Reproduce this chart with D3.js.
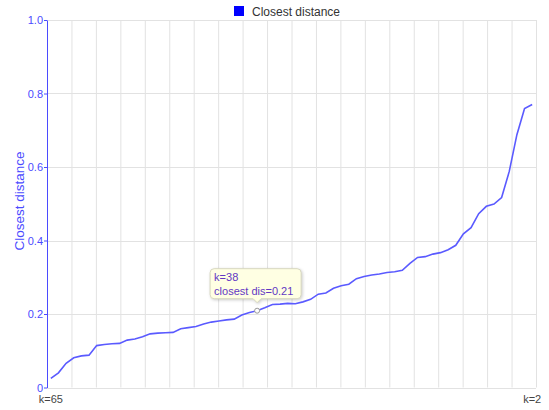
<!DOCTYPE html>
<html>
    <body style="margin:0;background:#fff">
        <svg id="mySvg" width="549" height="410"></svg>
        <script src="https://d3js.org/d3.v7.min.js"></script>
        <script>
            // k goes from 65 down to 2
            const kValues = d3.range(65, 1, -1);
            const distances = [
                0.025, 0.040, 0.066, 0.081, 0.086, 0.088, 0.114, 0.117, 0.119, 0.120,
                0.129, 0.132, 0.138, 0.146, 0.148, 0.149, 0.150, 0.160, 0.163, 0.166,
                0.173, 0.178, 0.181, 0.184, 0.186, 0.197, 0.204, 0.209, 0.217, 0.226,
                0.227, 0.229, 0.228, 0.233, 0.240, 0.254, 0.257, 0.270, 0.277, 0.281,
                0.296, 0.302, 0.306, 0.309, 0.313, 0.315, 0.319, 0.338, 0.354, 0.356,
                0.363, 0.367, 0.375, 0.387, 0.418, 0.435, 0.473, 0.493, 0.499, 0.517,
                0.588, 0.688, 0.759, 0.770
            ];
            const yTicks = [0, 0.2, 0.4, 0.6, 0.8, 1.0];
            const xEndLabels = ['k=65', 'k=2'];
            const seriesName = 'Closest distance';
            const tipK = 38;

            const data = kValues.map((k, i) => ({k: k, value: distances[i]}));

            const svg = d3.select('#mySvg');
            const margin = {top: 20, right: 13, bottom: 22.5, left: 47};
            const innerWidth = +svg.attr('width') - margin.left - margin.right;
            const innerHeight = +svg.attr('height') - margin.top - margin.bottom;
            const font = 'Liberation Sans, Arial, sans-serif';
            const blue = '#4b4bff';

            const g = svg.append('g')
                         .attr('transform', `translate(${margin.left}, ${margin.top})`);

            const xScale = d3.scalePoint()
                             .domain(kValues)
                             .range([0, innerWidth])
                             .padding(0.5);
            const yScale = d3.scaleLinear()
                             .domain([0, 1])
                             .range([innerHeight, 0]);
            // vertical grid: 20 equal columns
            const gridScale = d3.scaleLinear().domain([0, 20]).range([0, innerWidth]);

            // grid
            g.append('g')
             .selectAll('line')
             .data(d3.range(0, 21))
             .enter()
             .append('line')
             .attr('x1', d => gridScale(d) + 0.5)
             .attr('x2', d => gridScale(d) + 0.5)
             .attr('y1', 0)
             .attr('y2', innerHeight)
             .attr('stroke', '#e2e2e2');

            g.append('g')
             .selectAll('line')
             .data(yTicks)
             .enter()
             .append('line')
             .attr('x1', 0)
             .attr('x2', innerWidth)
             .attr('y1', d => Math.round(yScale(d)) + 0.5)
             .attr('y2', d => Math.round(yScale(d)) + 0.5)
             .attr('stroke', '#e2e2e2');

            // y axis
            const yAxis = d3.axisLeft(yScale)
                            .tickValues(yTicks)
                            .tickSize(3)
                            .tickSizeOuter(0)
                            .tickFormat(d => d === 0 ? '0' : d3.format('.1f')(d));
            const yAxisG = g.append('g').call(yAxis);
            yAxisG.select('.domain').attr('stroke', blue);
            yAxisG.selectAll('line').attr('stroke', blue);
            yAxisG.selectAll('text')
                  .attr('fill', blue)
                  .attr('font-family', font)
                  .attr('font-size', '11px')
                  .attr('x', -4);

            svg.append('text')
               .attr('transform', 'translate(24, 201) rotate(-90)')
               .attr('text-anchor', 'middle')
               .attr('fill', blue)
               .attr('font-family', font)
               .attr('font-size', '13.5px')
               .text(seriesName);

            // x end labels
            g.append('g')
             .selectAll('text')
             .data([kValues[0], kValues[kValues.length - 1]])
             .enter()
             .append('text')
             .attr('x', d => xScale(d))
             .attr('y', innerHeight + 15)
             .attr('text-anchor', 'middle')
             .attr('fill', '#444')
             .attr('font-family', font)
             .attr('font-size', '11px')
             .text((d, i) => xEndLabels[i]);

            // line
            const line = d3.line()
                           .x(d => xScale(d.k))
                           .y(d => yScale(d.value));
            g.append('path')
             .datum(data)
             .attr('d', line)
             .attr('fill', 'none')
             .attr('stroke', '#5a5aff')
             .attr('stroke-width', 1.6);

            // legend
            const legend = svg.append('g').attr('transform', 'translate(234, 6)');
            legend.append('rect')
                  .attr('width', 10)
                  .attr('height', 10)
                  .attr('fill', '#0000ff');
            legend.append('text')
                  .attr('x', 18)
                  .attr('y', 9.5)
                  .attr('fill', '#333')
                  .attr('font-family', font)
                  .attr('font-size', '12px')
                  .text(seriesName);

            // tooltip at k=38
            const tipD = data.find(d => d.k === tipK);
            const tx = xScale(tipD.k), ty = yScale(tipD.value);
            const tip = g.append('g');
            const bx = tx - 47, by = ty - 42, bw = 91, bh = 30;
            tip.append('path')
               .attr('d', `M${bx + 4},${by} h${bw - 8} q4,0 4,4 v${bh - 8} q0,4 -4,4 ` +
                          `H${tx + 4} l-4,4 l-4,-4 H${bx + 4} q-4,0 -4,-4 v${-(bh - 8)} q0,-4 4,-4 z`)
               .attr('fill', '#ffffe3')
               .attr('stroke', '#d8d8c0')
               .attr('stroke-width', 1)
               .style('filter', 'drop-shadow(1px 1px 1.5px rgba(0,0,0,0.2))');
            tip.append('text')
               .attr('x', bx + 4)
               .attr('y', by + 12)
               .attr('fill', '#6238c4')
               .attr('font-family', font)
               .attr('font-size', '11px')
               .text(`k=${tipD.k}`);
            tip.append('text')
               .attr('x', bx + 4)
               .attr('y', by + 26)
               .attr('fill', '#6238c4')
               .attr('font-family', font)
               .attr('font-size', '11px')
               .text(`closest dis=${d3.format('.2f')(tipD.value)}`);
            g.append('circle')
             .attr('cx', tx)
             .attr('cy', ty)
             .attr('r', 2.5)
             .attr('fill', '#fff')
             .attr('stroke', '#999');
        </script>
    </body>
</html>
